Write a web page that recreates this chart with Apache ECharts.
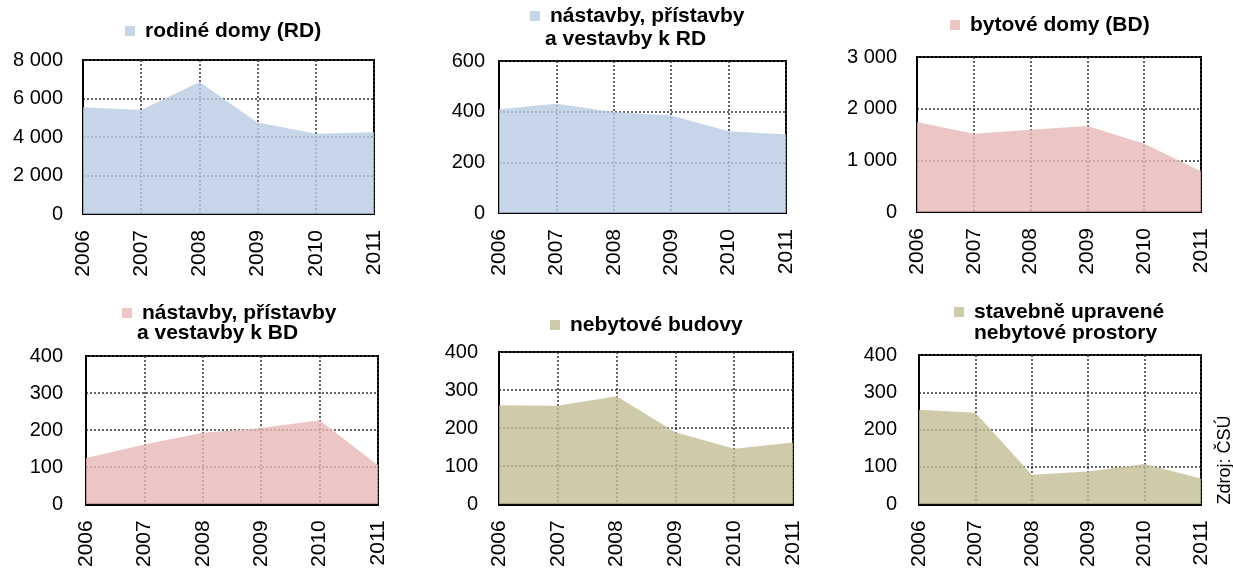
<!DOCTYPE html>
<html>
<head>
<meta charset="utf-8">
<script src="https://cdn.jsdelivr.net/npm/echarts@6/dist/echarts.min.js"></script>
<style>
html,body{margin:0;padding:0;background:#fff;}
#main{width:1233px;height:570px;}
</style>
</head>
<body>
<div id="main"></div>
<script>
// ---- data ----
const years = ['2006', '2007', '2008', '2009', '2010', '2011'];
const names = [
  'rodiné domy (RD)',
  'nástavby, přístavby\na vestavby k RD',
  'bytové domy (BD)',
  'nástavby, přístavby\na vestavby k BD',
  'nebytové budovy',
  'stavebně upravené\nnebytové prostory'
];
const rdValues = [5548, 5409, 6852, 4748, 4174, 4243];
const rdAddValues = [410, 431, 399, 385, 323, 310];
const bdValues = [1742, 1516, 1594, 1665, 1323, 787];
const bdAddValues = [125, 161, 193, 206, 227, 105];
const nonResValues = [260, 259, 284, 189, 146, 162];
const nonResSpaceValues = [253, 245, 79, 88, 108, 69];
const yMax = [8000, 600, 3000, 400, 400, 400];
const yInterval = [2000, 200, 1000, 100, 100, 100];
const sourceLabel = 'Zdroj: ČSÚ';

const seriesData = [rdValues, rdAddValues, bdValues, bdAddValues, nonResValues, nonResSpaceValues];

// ---- layout / style ----
const grids = [
  {left: 83, top: 60, width: 291, height: 154},
  {left: 499, top: 61, width: 287, height: 152},
  {left: 917, top: 57, width: 284, height: 155},
  {left: 86, top: 356, width: 292, height: 150},
  {left: 499, top: 352, width: 294, height: 156},
  {left: 919, top: 355, width: 282, height: 153}
];
const solidColors = ['#c6d6e8', '#c6d6e8', '#ecc6c5', '#ecc6c5', '#cfcaaa', '#cfcaaa'];
const fillColors = ['rgba(184,204,226,0.8)', 'rgba(184,204,226,0.8)', 'rgba(231,184,182,0.8)',
  'rgba(231,184,182,0.8)', 'rgba(195,189,149,0.8)', 'rgba(195,189,149,0.8)'];
const legendPos = [
  {left: 125, top: 20}, {left: 530, top: 5}, {left: 950, top: 14},
  {left: 122, top: 302}, {left: 550, top: 314}, {left: 954, top: 301}
];
// second line of wrapped legend labels
const secondLinePos = [null, {left: 545, top: 28}, null, {left: 137, top: 322}, null, {left: 974, top: 322}];
const yLabelMargin = [20, 14, 20, 23, 21, 22];
const FONT = '"Liberation Sans", Arial, sans-serif';
const LH = 22;

function fmt(v) {
  return String(v).replace(/\B(?=(\d{3})+(?!\d))/g, ' ');
}

const titles = [];
names.forEach((n, i) => {
  const parts = n.split('\n');
  if (parts.length > 1 && secondLinePos[i]) {
    titles.push({
      text: parts[1],
      left: secondLinePos[i].left,
      top: secondLinePos[i].top,
      padding: 0,
      textStyle: {fontFamily: FONT, fontSize: 21, fontWeight: 'bold', color: '#000', lineHeight: LH}
    });
  }
});

const option = {
  backgroundColor: '#fff',
  animation: false,
  textStyle: {fontFamily: FONT},
  title: titles,
  grid: grids.map(g => Object.assign({}, g, {
    show: true, borderColor: '#000', borderWidth: 2, backgroundColor: '#fff', containLabel: false
  })),
  legend: names.map((n, i) => ({
    data: [n],
    left: legendPos[i].left,
    top: legendPos[i].top,
    padding: 0,
    icon: 'rect',
    itemWidth: 10,
    itemHeight: 10,
    selectedMode: false,
    formatter: name => name.split('\n')[0],
    textStyle: {
      fontFamily: FONT, fontSize: 21, fontWeight: 'bold', color: '#000',
      lineHeight: LH, padding: [0, 0, 0, 5]
    }
  })),
  xAxis: grids.map((g, i) => ({
    type: 'category',
    gridIndex: i,
    data: years,
    boundaryGap: false,
    axisLine: {show: true, lineStyle: {color: '#000', width: 2}},
    axisTick: {show: false},
    axisLabel: {rotate: 90, fontSize: 21, color: '#000', margin: 16, fontFamily: FONT},
    splitLine: {show: true, lineStyle: {color: '#333', width: 1.5, type: [2, 2]}}
  })),
  yAxis: grids.map((g, i) => ({
    type: 'value',
    gridIndex: i,
    min: 0,
    max: yMax[i],
    interval: yInterval[i],
    axisLine: {show: true, lineStyle: {color: '#000', width: 2}},
    axisTick: {show: false},
    axisLabel: {fontSize: 20, color: '#000', margin: yLabelMargin[i], fontFamily: FONT, formatter: fmt},
    splitLine: {show: true, lineStyle: {color: '#333', width: 1.5, type: [2, 2]}}
  })),
  series: names.map((n, i) => ({
    name: n,
    type: 'line',
    xAxisIndex: i,
    yAxisIndex: i,
    data: seriesData[i],
    showSymbol: false,
    symbol: 'none',
    color: solidColors[i],
    lineStyle: {width: 0},
    areaStyle: {color: fillColors[i], opacity: 1}
  })),
  graphic: [{
    type: 'text',
    x: 1225,
    y: 460,
    rotation: Math.PI / 2,
    style: {
      text: sourceLabel,
      fontFamily: FONT,
      fontSize: 18,
      fill: '#000',
      align: 'center',
      verticalAlign: 'middle'
    }
  }]
};

const chart = echarts.init(document.getElementById('main'), null, {renderer: 'canvas'});
chart.setOption(option);
</script>
</body>
</html>
